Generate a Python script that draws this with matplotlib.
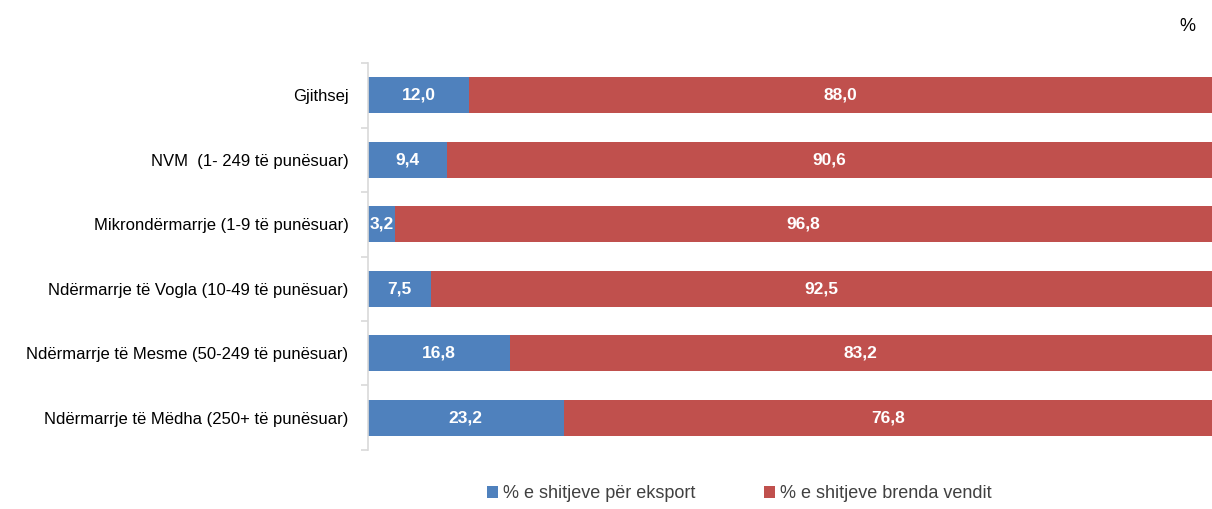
import numpy as np
import matplotlib.pyplot as plt

categories = ["Gjithsej",
              "NVM  (1- 249 të punësuar)",
              "Mikrondërmarrje (1-9 të punësuar)",
              "Ndërmarrje të Vogla (10-49 të punësuar)",
              "Ndërmarrje të Mesme (50-249 të punësuar)",
              "Ndërmarrje të Mëdha (250+ të punësuar)"]
export = [12.0, 9.4, 3.2, 7.5, 16.8, 23.2]
domestic = [88.0, 90.6, 96.8, 92.5, 83.2, 76.8]
series_names = ["% e shitjeve për eksport", "% e shitjeve brenda vendit"]

plt.rcParams['font.family'] = ['Liberation Sans', 'DejaVu Sans']

blue = "#4f81bd"
red = "#c0504d"

fig = plt.figure(figsize=(12.12, 5.09), dpi=100)
ax = fig.add_axes([0.3036, 0.116, 0.6964, 0.76])

y = np.arange(len(categories))
h = 0.56
ax.barh(y, export, height=h, color=blue, label=series_names[0])
ax.barh(y, domestic, left=export, height=h, color=red, label=series_names[1])

for i in range(len(categories)):
    ax.text(export[i] / 2, y[i], f"{export[i]:.1f}".replace(".", ","),
            ha="center", va="center", color="white", fontsize=12.5, fontweight="bold")
    ax.text(export[i] + domestic[i] / 2, y[i], f"{domestic[i]:.1f}".replace(".", ","),
            ha="center", va="center", color="white", fontsize=12.5, fontweight="bold")

ax.set_xlim(0, 100)
ax.set_ylim(len(categories) - 0.5, -0.5)
ax.set_yticks(y)
ax.set_yticklabels(categories, fontsize=12)
ax.set_yticks(np.arange(len(categories) + 1) - 0.5, minor=True)
ax.tick_params(axis="y", which="major", length=0, pad=14)
ax.tick_params(axis="y", which="minor", length=5, color="#d9d9d9", width=1.2)
ax.set_xticks([])
for s in ["top", "right", "bottom"]:
    ax.spines[s].set_visible(False)
ax.spines["left"].set_color("#d9d9d9")
ax.spines["left"].set_linewidth(1.2)

fig.text(0.98, 0.948, "%", ha="center", va="center", fontsize=13)

fig.legend(loc="center", bbox_to_anchor=(0.61, 0.03), ncol=2, frameon=False,
           fontsize=13, handlelength=0.6, handleheight=0.6, handletextpad=0.3,
           columnspacing=3.8, labelcolor="#404040")

plt.savefig("out.png", dpi=100)
